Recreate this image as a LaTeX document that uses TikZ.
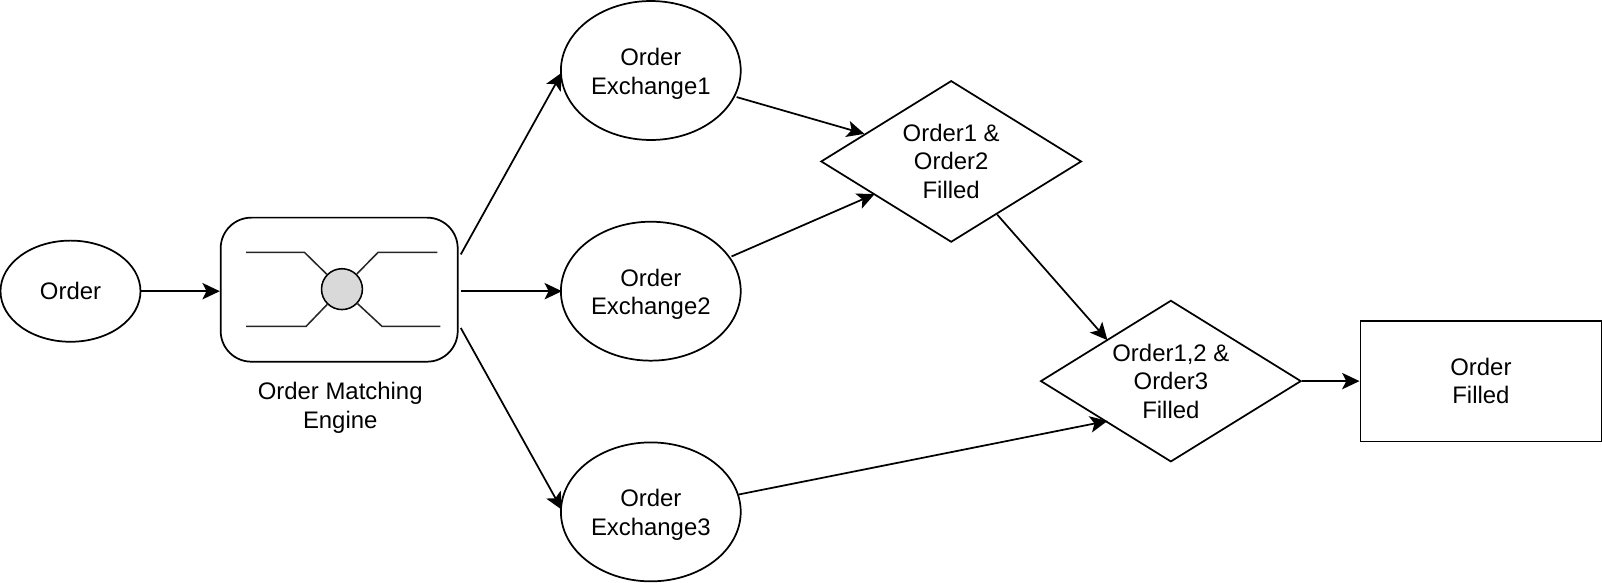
\documentclass[tikz,border=0pt]{standalone}
\usepackage{fontspec}
\setmainfont{Liberation Sans}
\usetikzlibrary{arrows.meta,shapes.geometric}
\newcommand{\lowerline}{\rule{0pt}{11.6pt}}
\tikzset{
 px/.style={x=0.5pt,y=-0.5pt},
 txt/.style={align=center,font=\fontsize{11.7}{14}\selectfont},
 conn/.style={line width=0.85pt,-{Stealth[length=8.5pt,width=8pt,inset=2pt]}},
 eli/.style={draw,ellipse,line width=0.85pt,inner sep=0pt,txt},
 dia/.style={draw,diamond,aspect=1.614,line width=0.85pt,inner sep=0pt,txt},
 rct/.style={draw,line width=0.85pt,inner sep=0pt,txt},
 lab/.style={inner sep=0pt,txt},
 wire/.style={line width=0.75pt,black!85}
}
\begin{document}
\begin{tikzpicture}[px]
\useasboundingbox (0,0) rectangle (1568,569.7);
\node[eli,minimum width=68.5pt,minimum height=49.5pt] (order) at (69,285) {Order};
\node[rct,rounded corners=15pt,minimum width=116pt,minimum height=70.5pt] (eng) at (332,283.5) {};
\node[lab] (englab) at (333,399) {Order Matching\\Engine};
\node[eli,minimum width=88pt,minimum height=68pt] (e1) at (637,69) {\lowerline Order\\Exchange1};
\node[eli,minimum width=88pt,minimum height=68pt] (e2) at (637,285) {\lowerline Order\\Exchange2};
\node[eli,minimum width=88pt,minimum height=68pt] (e3) at (637,501) {\lowerline Order\\Exchange3};
\node[dia,minimum width=127.5pt,minimum height=79pt] (d1) at (931,158) {Order1 \&\\Order2\\Filled};
\node[dia,minimum width=127.5pt,minimum height=79pt] (d2) at (1146,373) {Order1,2 \&\\Order3\\Filled};
\node[rct,minimum width=118pt,minimum height=59pt] (fill) at (1449.5,373) {Order\\Filled};
\node[circle,draw,fill=black!15,line width=0.75pt,minimum size=20pt,inner sep=0pt] (hub) at (334.7,283) {};
\coordinate (a1) at (241,247);
\coordinate (a2) at (298,247);
\coordinate (b1) at (428,247);
\coordinate (b2) at (370,247);
\coordinate (c1) at (241,319.5);
\coordinate (c2) at (299.5,319.5);
\coordinate (f1) at (431,319.5);
\coordinate (f2) at (374,319.5);
\draw[wire] (a1) -- (a2) -- (hub);
\draw[wire] (b1) -- (b2) -- (hub);
\draw[wire] (c1) -- (c2) -- (hub);
\draw[wire] (f1) -- (f2) -- (hub);
\draw[conn] (order.east) -- (order.east -| eng.west);
\coordinate (s1) at (451,249);
\coordinate (s2) at (451,285);
\coordinate (s3) at (451,321);
\coordinate (t1) at (550,71);
\coordinate (t2) at (550,285);
\coordinate (t3) at (550,499);
\draw[conn] (s1) -- (t1);
\draw[conn] (s2) -- (t2);
\draw[conn] (s3) -- (t3);
\coordinate (u1) at (721,95);
\coordinate (v1) at (846,131);
\coordinate (u2) at (716,251);
\coordinate (v2) at (856,190);
\coordinate (u3) at (723,484);
\coordinate (v3) at (1084,412);
\coordinate (u4) at (976,210);
\coordinate (v4) at (1084,333);
\draw[conn] (u1) -- (v1);
\draw[conn] (u2) -- (v2);
\draw[conn] (u3) -- (v3);
\draw[conn] (u4) -- (v4);
\draw[conn] (d2) -- (fill);
\end{tikzpicture}
\end{document}
